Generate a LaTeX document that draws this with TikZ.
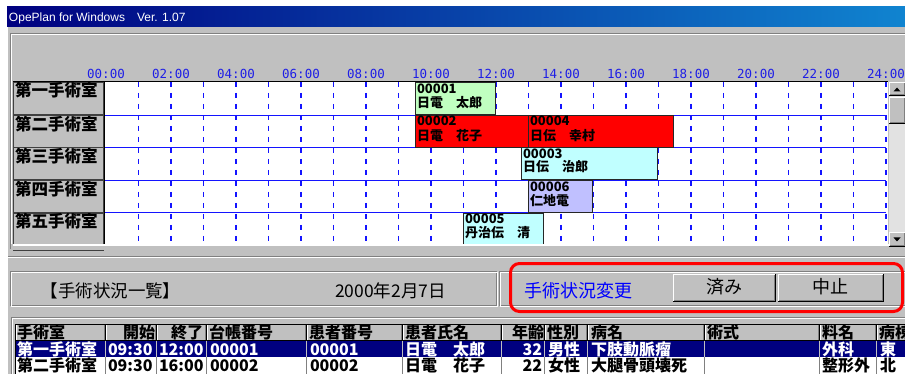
\documentclass[tikz,border=0pt]{standalone}
\usepackage{fontspec}
\newfontfamily\jp{Noto Sans CJK JP}
\newfontfamily\latinsans{Liberation Sans}
\newfontfamily\monofont{DejaVu Sans Mono}
\definecolor{wingray}{RGB}{192,192,192}
\definecolor{shadowg}{RGB}{128,128,128}
\definecolor{selnavy}{RGB}{0,0,128}
\definecolor{titleA}{RGB}{0,0,128}
\definecolor{titleB}{RGB}{16,132,208}
\definecolor{gridblue}{RGB}{20,20,255}
\definecolor{tickblue}{RGB}{30,30,230}
\definecolor{blkgreen}{RGB}{192,255,192}
\definecolor{blkcyan}{RGB}{192,255,255}
\definecolor{blklav}{RGB}{192,192,255}
\definecolor{blkred}{RGB}{255,0,0}
\definecolor{tracklight}{RGB}{226,226,226}
\newcommand\wbtn[4]{%
  \fill[wingray] (#1,#2) rectangle (#3,#4);
  \draw[white,line width=1pt] (#1+0.5,#4-1) -- (#1+0.5,#2+0.5) -- (#3-1,#2+0.5);
  \draw[black,line width=1pt] (#1,#4-0.5) -- (#3-0.5,#4-0.5) -- (#3-0.5,#2);
  \draw[shadowg,line width=1pt] (#1+1,#4-1.5) -- (#3-1.5,#4-1.5) -- (#3-1.5,#2+1);}
\newcommand\etchbox[4]{%
  \draw[shadowg,line width=1pt] (#1+0.5,#2+0.5) rectangle (#3-1.5,#4-1.5);
  \draw[white,line width=1pt] (#1+1.5,#2+1.5) rectangle (#3-0.5,#4-0.5);}
\begin{document}
\begin{tikzpicture}[x=1pt,y=-1pt,
  txt/.style={inner sep=0pt, outer sep=0pt},
  tick/.style={txt, anchor=base, font=\monofont\fontsize{12.5}{12.5}\selectfont, text=tickblue},
  roomlbl/.style={txt, anchor=base west, font=\jp\bfseries\fontsize{16.5}{16.5}\selectfont},
  blktxt/.style={txt, anchor=base west, font=\jp\bfseries\fontsize{13}{13}\selectfont},
  blockbox/.style={draw=black!85, line width=1pt},
  gridh/.style={gridblue, line width=1.3pt},
  gridv/.style={gridblue, line width=1.2pt, dash pattern=on 5pt off 6pt},
  hdr/.style={txt, anchor=base west, font=\jp\bfseries\fontsize{16}{16}\selectfont},
  hdrR/.style={hdr, anchor=base east},
  cellW/.style={hdr, text=white},
  cellWR/.style={hdrR, text=white},
  stat/.style={txt, anchor=base west, font=\jp\fontsize{17.5}{17.5}\selectfont},
  btntxt/.style={txt, anchor=base, font=\jp\fontsize{18}{18}\selectfont},
]
\useasboundingbox (0,0) rectangle (905,374);
\clip (0,0) rectangle (905,374);
\fill[white] (0,0) rectangle (905,374);
% window
\fill[wingray] (7,27) rectangle (906,375);
\shade[left color=titleA, right color=titleB] (7,7) rectangle (906,27);
\node[txt, anchor=base west, text=white, font=\latinsans\fontsize{12}{12}\selectfont] (title) at (9,21.7) {OpePlan for Windows};
\node[txt, anchor=base west, text=white, font=\latinsans\fontsize{12}{12}\selectfont] (ver) at (137,21.7) {Ver. 1.07};
% gantt panel
\etchbox{10}{33}{908}{250}
\foreach \h [count=\k from 0] in {00,02,04,06,08,10,12,14,16,18,20,22,24}
  \node[tick] (t\k) at (106+65*\k,78.3) {\h:00};
% grid
\fill[white] (105,82) rectangle (888,244);
\foreach \r in {115.5,147.5,180.2,212.8}
  \draw[gridh] (105,\r) -- (886,\r);
\foreach \k in {1,...,24}
  \draw[gridv] (106+32.5*\k,82) -- (106+32.5*\k,244);
% blocks
\draw[blockbox, fill=blkgreen] (415,82.5) rectangle (495,114.5);
\node[blktxt] (b1a) at (417,93.5) {00001};
\node[blktxt] (b1b) at (417,107.5) {日電　太郎};
\draw[blockbox, fill=blkred] (415,115.5) rectangle (528,147.5);
\node[blktxt] (b2a) at (417,126) {00002};
\node[blktxt] (b2b) at (417,140.5) {日電　花子};
\draw[blockbox, fill=blkred] (528,115.5) rectangle (673,147.5);
\node[blktxt] (b4a) at (530,126) {00004};
\node[blktxt] (b4b) at (530,140.5) {日伝　幸村};
\draw[blockbox, fill=blkcyan] (521,147.8) rectangle (657,179.5);
\node[blktxt] (b3a) at (523,158.3) {00003};
\node[blktxt] (b3b) at (523,172) {日伝　治郎};
\draw[blockbox, fill=blklav] (528,180.7) rectangle (592,212.3);
\node[blktxt] (b6a) at (530,191.5) {00006};
\node[blktxt] (b6b) at (530,205.5) {仁地電};
\draw[blockbox, fill=blkcyan] (463,213.3) rectangle (543,250);
\node[blktxt] (b5a) at (465,223.3) {00005};
\node[blktxt] (b5b) at (465,238) {丹治伝　清};
% grid frame
\fill[wingray] (888,82) rectangle (906,244);
\draw[black,line width=1.5pt] (13,81.5) -- (888,81.5);
\draw[black,line width=1pt] (104.5,82) -- (104.5,244);
% room labels
\foreach \t/\b [count=\i] in {82.2/115, 115.8/147.2, 147.8/180, 180.5/212.5, 213/250}
  \draw[black!75,line width=1.3pt,fill=wingray] (13.5,\t) rectangle (103.3,\b);
\node[roomlbl] (r1) at (15,96.5) {第一手術室};
\node[roomlbl] (r2) at (15,130.5) {第二手術室};
\node[roomlbl] (r3) at (15,162.8) {第三手術室};
\node[roomlbl] (r4) at (15,195.5) {第四手術室};
\node[roomlbl] (r5) at (15,228) {第五手術室};
\fill[wingray] (11,244) rectangle (906,250);
\draw[white,line width=1.2pt] (13,245) -- (906,245);
% scrollbar
\fill[tracklight] (889,82) rectangle (906,246);
\wbtn{889}{82}{906}{96}
\fill[black] (893.5,91.5) -- (900.5,91.5) -- (897,87.5) -- cycle;
\wbtn{889}{97}{906}{124}
\wbtn{889}{232}{906}{247}
\fill[black] (893.5,237.5) -- (900.5,237.5) -- (897,241.5) -- cycle;
% separator
\draw[shadowg,line width=1pt] (8,256.5) -- (906,256.5);
\draw[white,line width=1pt] (8,257.5) -- (906,257.5);
\draw[white,line width=1pt] (7.5,27) -- (7.5,375);
% status panels
\etchbox{10}{271}{498}{307}
\etchbox{499}{271}{908}{307}
\node[stat] (listttl) at (40.5,297) {【手術状況一覧】};
\node[stat] (date) at (335,297) {2000年2月7日};
\node[txt, anchor=base west, font=\jp\fontsize{18}{18}\selectfont, text=blue] (chg) at (524,298) {手術状況変更};
\wbtn{673}{274}{776}{302}
\wbtn{778}{274}{884}{302}
\node[btntxt] (done) at (724,293.5) {済み};
\node[btntxt] (stop) at (830,293.5) {中止};
\draw[red, line width=3pt, rounded corners=9pt] (510.5,263.5) rectangle (902.5,311.5);
% table
\etchbox{11}{317}{908}{380}
\fill[wingray] (15,324) rectangle (906,340);
\fill[selnavy] (15,340.5) rectangle (906,357);
\fill[white] (15,357) rectangle (906,376);
\draw[black,line width=1pt] (15.5,324.5) -- (15.5,376);
\draw[black,line width=1pt] (15,324.5) -- (906,324.5);
\draw[black,line width=1pt] (15,340) -- (906,340);
\foreach \c in {106,157,207,307,403,502,545,588,705,820,877} {
  \draw[shadowg,line width=1pt] (\c-1.5,325) -- (\c-1.5,340);
  \draw[black,line width=1pt] (\c-0.5,325) -- (\c-0.5,340);
  \draw[white,line width=1pt] (\c+0.5,325) -- (\c+0.5,340);
  \draw[wingray,line width=1pt] (\c-0.5,340.5) -- (\c-0.5,357);
  \draw[shadowg,line width=1pt] (\c-0.5,357) -- (\c-0.5,376);
}
\draw[white,line width=1pt] (16.5,325) -- (16.5,340);
% header
\node[hdr] (h1) at (17,338.5) {手術室};
\node[hdrR] (h2) at (155,338.5) {開始};
\node[hdrR] (h3) at (203,338.5) {終了};
\node[hdr] (h4) at (209,338.5) {台帳番号};
\node[hdr] (h5) at (309,338.5) {患者番号};
\node[hdr] (h6) at (405,338.5) {患者氏名};
\node[hdrR] (h7) at (544,338.5) {年齢};
\node[hdr] (h8) at (547,338.5) {性別};
\node[hdr] (h9) at (591,338.5) {病名};
\node[hdr] (h10) at (707,338.5) {術式};
\node[hdr] (h11) at (822,338.5) {料名};
\node[hdr] (h12) at (879,338.5) {病棟};
% row 1
\node[cellW] (a1) at (17,355) {第一手術室};
\node[cellW] (a2) at (108,355) {09:30};
\node[cellW] (a3) at (159,355) {12:00};
\node[cellW] (a4) at (210,355) {00001};
\node[cellW] (a5) at (310,355) {00001};
\node[cellW] (a6) at (405,355) {日電　太郎};
\node[cellWR] (a7) at (542,355) {32};
\node[cellW] (a8) at (548,355) {男性};
\node[cellW] (a9) at (591,355) {下肢動脈瘤};
\node[cellW] (a11) at (822,355) {外科};
\node[cellW] (a12) at (880,355) {東};
% row 2
\node[hdr] (c1) at (17,371.5) {第二手術室};
\node[hdr] (c2) at (108,371.5) {09:30};
\node[hdr] (c3) at (159,371.5) {16:00};
\node[hdr] (c4) at (210,371.5) {00002};
\node[hdr] (c5) at (310,371.5) {00002};
\node[hdr] (c6) at (405,371.5) {日電　花子};
\node[hdrR] (c7) at (542,371.5) {22};
\node[hdr] (c8) at (548,371.5) {女性};
\node[hdr] (c9) at (591,371.5) {大腿骨頭壊死};
\node[hdr] (c11) at (822,371.5) {整形外};
\node[hdr] (c12) at (880,371.5) {北};
\end{tikzpicture}
\end{document}
